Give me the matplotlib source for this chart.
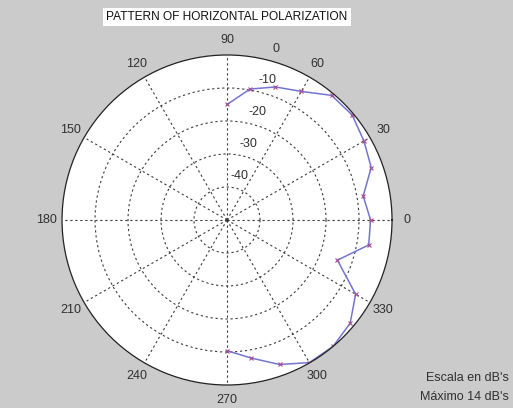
import numpy as np
import matplotlib
matplotlib.use('Agg')
import matplotlib.pyplot as plt

plt.rcParams['font.family'] = ['Liberation Sans', 'DejaVu Sans']

# measured pattern, angle in degrees / level in dB
angles_deg = [90, 80, 70, 60, 50, 40, 30, 20, 10, 0,
              -10, -20, -30, -40, -50, -60, -70, -80, -90]
gain_db = [-15.0, -9.7, -7.1, -5.0, -0.7, -0.5, -2.1, -3.5, -8.1, -6.5,
           -6.4, -14.4, -5.0, -1.3, 0.0, -0.1, -3.4, -7.5, -10.4]

theta_ticks = [0, 30, 60, 90, 120, 150, 180, 210, 240, 270, 300, 330]
ring_db = [0, -10, -20, -30, -40]
r_min, r_max = -50, 0

bg = '#cbcbcb'
fig = plt.figure(figsize=(5.13, 4.08), dpi=100, facecolor=bg)
ax = fig.add_axes([0.1209, 0.0564, 0.6433, 0.8088], projection='polar')
ax.set_facecolor('white')
ax.set_ylim(r_min, r_max)

# grid: spokes every 30 deg, dotted rings
ax.set_thetagrids(theta_ticks, labels=[''] * len(theta_ticks))
ax.set_rgrids(ring_db[1:], labels=[''] * len(ring_db[1:]))
ax.grid(True, color='#3a3a3a', linestyle=(0, (2, 2.5)), linewidth=0.8)
ax.spines['polar'].set_color('#222222')
ax.spines['polar'].set_linewidth(0.9)
ax.tick_params(length=0)

# angle labels
for a in theta_ticks:
    ax.text(np.deg2rad(a), r_max + 4.6, str(a), ha='center', va='center',
            fontsize=9, color='#303030')

# ring labels
for r in ring_db:
    ax.text(np.deg2rad(74), r + 4.0, str(r), ha='center', va='center',
            fontsize=9, color='#303030')

th = np.deg2rad(angles_deg)
ax.plot(th, gain_db, color='#7474d0', linewidth=1.1)
ax.plot(th, gain_db, linestyle='none', marker='x', markersize=3.5,
        markeredgewidth=0.8, color='#a84a90')

fig.text(227 / 513, 1 - 17 / 408, 'PATTERN OF HORIZONTAL POLARIZATION',
         ha='center', va='center', fontsize=8.6, color='#111111',
         bbox=dict(facecolor='white', edgecolor='none', pad=2.2))

fig.text(509 / 513, 1 - 378 / 408, "Escala en dB's", ha='right', va='center',
         fontsize=9, color='#303030')
fig.text(509 / 513, 1 - 397 / 408, "Máximo 14 dB's", ha='right', va='center',
         fontsize=9, color='#303030')

fig.savefig('out.png', dpi=100, facecolor=bg)
